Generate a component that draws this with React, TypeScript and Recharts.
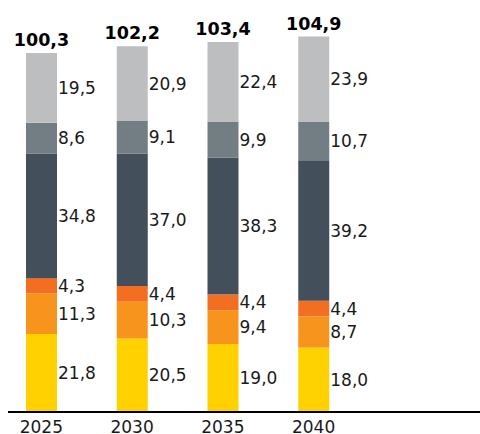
import { BarChart, Bar, XAxis, YAxis, LabelList } from "recharts";

const years = ["2025", "2030", "2035", "2040"];
const yellow = [21.8, 20.5, 19.0, 18.0];
const orange = [11.3, 10.3, 9.4, 8.7];
const darkOrange = [4.3, 4.4, 4.4, 4.4];
const slate = [34.8, 37.0, 38.3, 39.2];
const grey = [8.6, 9.1, 9.9, 10.7];
const lightGrey = [19.5, 20.9, 22.4, 23.9];
const totals = [100.3, 102.2, 103.4, 104.9];

const series = [
  { key: "yellow", values: yellow, color: "#FFD100" },
  { key: "orange", values: orange, color: "#F7941D" },
  { key: "darkOrange", values: darkOrange, color: "#F26F21" },
  { key: "slate", values: slate, color: "#434F5A" },
  { key: "grey", values: grey, color: "#737E84" },
  { key: "lightGrey", values: lightGrey, color: "#BDBEC0" },
];

const data = years.map((year, i) => {
  const row: Record<string, number | string> = { year, total: totals[i] };
  series.forEach((s) => {
    row[s.key] = s.values[i];
  });
  return row;
});

const FONT = "'DejaVu Sans', sans-serif";
const fmt = (v: number) => Number(v).toFixed(1).replace(".", ",");

const SideLabel = (props: any) => {
  const { x, y, width, height, value } = props;
  return (
    <text
      x={x + width + 1}
      y={y + height / 2}
      dominantBaseline="central"
      fill="#1a1a1a"
      fontSize={17}
      fontFamily={FONT}
    >
      {fmt(value)}
    </text>
  );
};

const TotalLabel = (props: any) => {
  const { x, y, width, value } = props;
  return (
    <text
      x={x + width / 2}
      y={y - 7}
      textAnchor="middle"
      fill="#000"
      fontSize={17.5}
      fontWeight="bold"
      fontFamily={FONT}
    >
      {fmt(value)}
    </text>
  );
};

const YearTick = (props: any) => {
  const { x, y, payload } = props;
  return (
    <text
      x={x}
      y={y + 13}
      textAnchor="middle"
      fill="#1a1a1a"
      fontSize={17}
      fontFamily={FONT}
    >
      {payload.value}
    </text>
  );
};

export default function App() {
  return (
    <div style={{ position: "absolute", left: 0, top: 0, background: "#fff" }}>
      <BarChart
        width={480}
        height={434}
        data={data}
        margin={{ top: 0, right: 0, bottom: 0, left: 8 }}
        barSize={31}
      >
        <XAxis
          dataKey="year"
          height={22}
          padding={{ left: -12, right: 121 }}
          axisLine={{ stroke: "#000", strokeWidth: 2 }}
          tickLine={false}
          tick={<YearTick />}
          interval={0}
        />
        <YAxis hide domain={[0, 115.1]} />
        {series.map((s, idx) => (
          <Bar
            key={s.key}
            dataKey={s.key}
            stackId="a"
            fill={s.color}
            isAnimationActive={false}
          >
            <LabelList dataKey={s.key} content={<SideLabel />} />
            {idx === series.length - 1 && (
              <LabelList dataKey="total" content={<TotalLabel />} />
            )}
          </Bar>
        ))}
      </BarChart>
    </div>
  );
}
